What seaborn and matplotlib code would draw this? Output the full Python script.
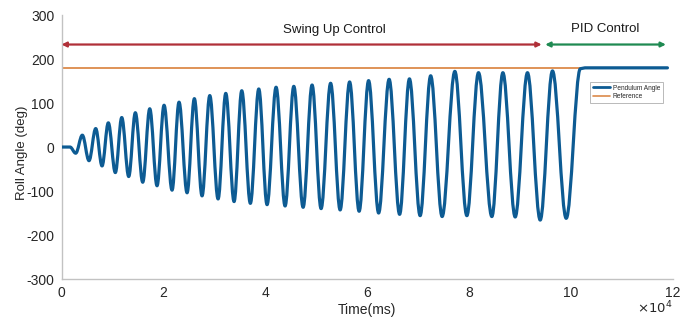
#!/usr/bin/env python3
"""
Pendulum roll angle during swing-up and PID balance.
"""
import numpy as np
import pandas as pd
import matplotlib
matplotlib.use('Agg')
import matplotlib.pyplot as plt
from matplotlib.path import Path
from matplotlib.patches import PathPatch
from matplotlib.lines import Line2D
import seaborn as sns

# start of the run: pendulum resting at 0 deg
rest_t = [0, 1670]
rest_v = [0, 0]

# swing-up extremes (ms, deg)
trough_t = [2790, 5400, 7960, 10570, 13200, 15950, 18760, 21710, 24660, 27600,
            30750, 33890, 37090, 40370, 43910, 47450, 50980, 54720, 58450, 62280,
            66400, 70430, 74750, 79610, 84520, 89100, 94010, 99120]
trough_v = [-14, -31, -43, -58, -67, -80, -88, -98, -104, -111,
            -118, -124, -128, -131, -134, -137, -140, -143, -146, -150,
            -153, -156, -158, -156, -158, -159, -166, -162]
peak_t = [4090, 6720, 9190, 11830, 14500, 17330, 20140, 23080, 26090, 29120,
          32260, 35400, 38740, 42140, 45620, 49210, 52850, 56580, 60310, 64340,
          68330, 72500, 77250, 81890, 86680, 91510, 96420]
peak_v = [27, 42, 55, 67, 78, 87, 95, 102, 110, 117,
          122, 128, 132, 136, 138, 141, 145, 148, 151, 154,
          155, 162, 172, 169, 169, 169, 173]

# PID catch: swing up into 180 deg, then hold
catch_t = [101900, 102800, 119000]
catch_v = [178, 180, 180]

ref_t = [0, 119000]
ref_v = [180, 180]

# control phases (ms)
swing_span = [0, 94300]
pid_span = [95000, 118700]
arrow_y = 233


def swing_path(rest, extremes, hold):
    """Rest segment, then smooth half-swings between extremes, then hold."""
    verts = [rest[0], rest[1]]
    codes = [Path.MOVETO, Path.LINETO]
    prev = rest[1]
    for pt in extremes:
        dx = pt[0] - prev[0]
        # horizontal tangents at each turning point
        verts += [(prev[0] + 0.36 * dx, prev[1]), (pt[0] - 0.36 * dx, pt[1]), pt]
        codes += [Path.CURVE4] * 3
        prev = pt
    for pt in hold:
        verts.append(pt)
        codes.append(Path.LINETO)
    return Path(verts, codes)


swing = sorted(zip(trough_t + peak_t, trough_v + peak_v)) + [(catch_t[0], catch_v[0])]
trace = swing_path(list(zip(rest_t, rest_v)), swing,
                   list(zip(catch_t[1:], catch_v[1:])))
ref = pd.DataFrame({'t': ref_t, 'angle': ref_v})

sns.set_style('white')
plt.rcParams['font.family'] = ['Liberation Sans', 'DejaVu Sans']
plt.rcParams['axes.unicode_minus'] = False

fig = plt.figure(figsize=(6.85, 3.2), dpi=100)
ax = fig.add_axes([0.0898, 0.128, 0.892, 0.825])

blue = '#0d5b93'
orange = '#dc8a4a'

sns.lineplot(data=ref, x='t', y='angle', ax=ax, color=orange, lw=1.3,
             label='Reference')
ax.add_patch(PathPatch(trace, facecolor='none', edgecolor=blue, lw=2.3,
                       joinstyle='round', capstyle='round', zorder=3))

# phase arrows
ax.annotate('', xy=(swing_span[0], arrow_y), xytext=(swing_span[1], arrow_y),
            arrowprops=dict(arrowstyle='<|-|>', color='#b03038', lw=1.6,
                            mutation_scale=7, shrinkA=0, shrinkB=0))
ax.annotate('', xy=(pid_span[0], arrow_y), xytext=(pid_span[1], arrow_y),
            arrowprops=dict(arrowstyle='<|-|>', color='#1f8a52', lw=1.6,
                            mutation_scale=7, shrinkA=0, shrinkB=0))
ax.text(53500, 266, 'Swing Up Control', ha='center', va='center', fontsize=9.5,
        color='#1a1a1a')
ax.text(106800, 268, 'PID Control', ha='center', va='center', fontsize=9.5,
        color='#1a1a1a')

ax.set_xlim(0, 120000)
ax.set_ylim(-300, 300)
ax.set_xticks(np.arange(0, 120001, 20000))
ax.set_xticklabels([str(v) for v in range(0, 13, 2)])
ax.set_yticks(np.arange(-300, 301, 100))
ax.set_xlabel('Time(ms)', fontsize=10, color='#262626', labelpad=2)
ax.set_ylabel('Roll Angle (deg)', fontsize=9.5, color='#262626')
ax.yaxis.set_label_coords(-0.055, 0.48)
ax.tick_params(direction='in', length=4, width=0.8, colors='#b5b5b5',
               labelcolor='#262626', labelsize=10, pad=5)

for side in ['top', 'right']:
    ax.spines[side].set_visible(False)
for side in ['left', 'bottom']:
    ax.spines[side].set_color('#c2c2c2')
    ax.spines[side].set_linewidth(1.0)

fig.text(0.982, 0.01, r'$\times10^4$', ha='right', va='bottom', fontsize=9.5,
         color='#262626')

handles = [Line2D([], [], color=blue, lw=2.0),
           Line2D([], [], color=orange, lw=1.2)]
leg = ax.legend(handles, ['Pendulum Angle', 'Reference'], loc='upper left',
                bbox_to_anchor=(0.865, 0.748), fontsize=4.7,
                frameon=True, fancybox=False, handlelength=2.6,
                borderpad=0.45, labelspacing=0.3, handletextpad=0.4,
                borderaxespad=0)
leg.get_frame().set_edgecolor('#a8a8a8')
leg.get_frame().set_linewidth(0.7)

plt.savefig('out.png', dpi=100)
plt.close()
